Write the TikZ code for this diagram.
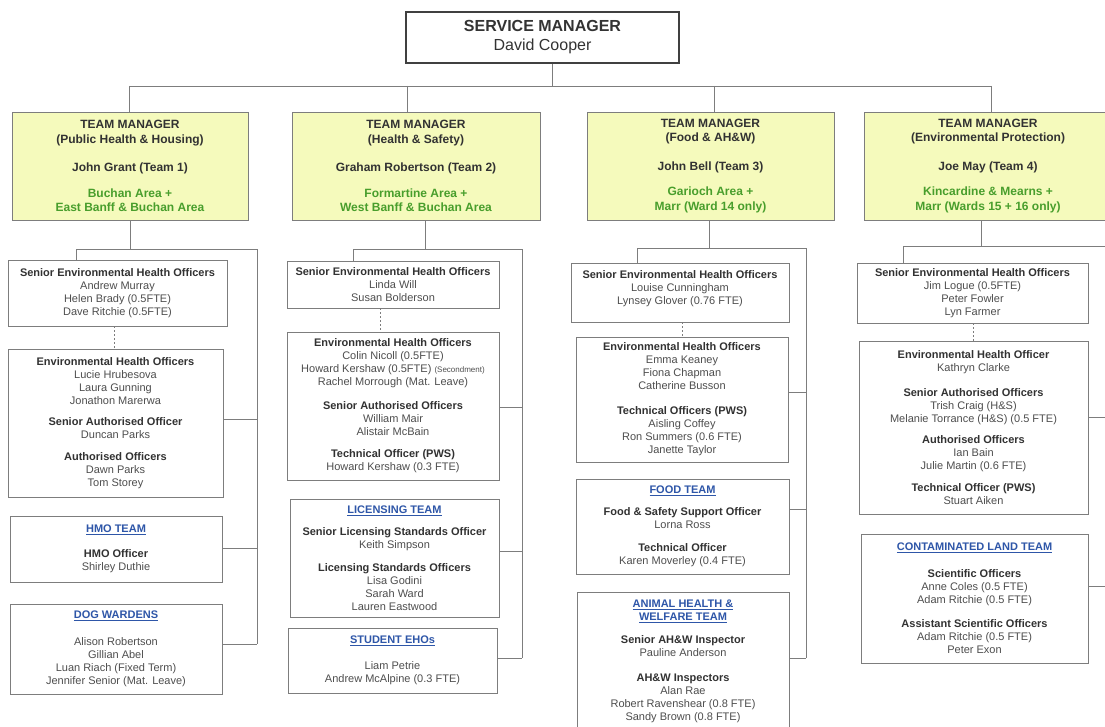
\documentclass[tikz,border=0pt]{standalone}
\usepackage{fontspec}
\setmainfont{Liberation Sans}
\usepackage{tikz}
\definecolor{tmfill}{RGB}{245,250,188}
\definecolor{areagreen}{RGB}{72,158,44}
\definecolor{teamblue}{RGB}{46,86,168}
\definecolor{boxgray}{RGB}{125,125,125}
\definecolor{hdgray}{RGB}{50,50,50}
\definecolor{nmgray}{RGB}{78,78,78}
\newcommand{\role}[1]{\textbf{\textcolor{hdgray}{#1}}}
\newcommand{\area}[1]{\textbf{\textcolor{areagreen}{#1}}}
\newcommand{\unitname}[1]{\textbf{\textcolor{teamblue}{\underline{#1}}}}
\newcommand{\smallnote}[1]{{\fontsize{8}{13}\selectfont #1}}

\begin{document}
\begin{tikzpicture}[x=1pt,y=-1pt,
  link/.style={boxgray,line width=0.8pt},
  dotlink/.style={boxgray,line width=0.8pt,dash pattern=on 2pt off 2pt},
  wh/.style 2 args={minimum width=#1pt,minimum height=#2pt},
  mgrbox/.style={draw=black!75,line width=2.8pt,fill=white,inner sep=0pt,align=center,text=black!80,font=\fontsize{16}{19}\selectfont},
  tmbox/.style={draw=boxgray,line width=0.8pt,fill=tmfill,inner sep=0pt,align=center,text=hdgray,font=\fontsize{12}{14.5}\selectfont\bfseries},
  unitbox/.style={draw=boxgray,line width=0.8pt,fill=white,inner sep=0pt,align=center,text=nmgray,font=\fontsize{11}{13}\selectfont}]
\useasboundingbox (0,0) rectangle (1105,727);
\clip (0,0) rectangle (1105,727);
\fill[white] (0,0) rectangle (1105,727);

% service manager and team managers
\node[mgrbox,wh={273}{51}] (mgr) at (542.5,37.5) {\textbf{SERVICE MANAGER}\\David Cooper};
\node[tmbox,wh={236}{108}] (tmA) at (130,166) {TEAM MANAGER\\(Public Health \& Housing)\\[14pt] John Grant (Team 1)\\[11pt] \area{Buchan Area +}\\ \area{East Banff \& Buchan Area}};
\node[tmbox,wh={248}{108}] (tmB) at (416,166) {TEAM MANAGER\\(Health \& Safety)\\[14pt] Graham Robertson (Team 2)\\[11pt] \area{Formartine Area +}\\ \area{West Banff \& Buchan Area}};
\node[tmbox,wh={247}{108}] (tmC) at (710.5,166) {TEAM MANAGER\\(Food \& AH\&W)\\[14pt] John Bell (Team 3)\\[11pt] \area{Garioch Area +}\\ \area{Marr (Ward 14 only)}};
\node[tmbox,wh={248}{108}] (tmD) at (988,166) {TEAM MANAGER\\(Environmental Protection)\\[14pt] Joe May (Team 4)\\[11pt] \area{Kincardine \& Mearns +}\\ \area{Marr (Wards 15 + 16 only)}};

\coordinate (top) at (552,86);
\coordinate (busA) at (129,86);
\coordinate (busB) at (407,86);
\coordinate (busC) at (714,86);
\coordinate (busD) at (991,86);
\draw[link] (mgr.south -| top) -- (top);
\draw[link] (busA) -- (busD);
\foreach \b/\t in {busA/tmA,busB/tmB,busC/tmC,busD/tmD}
  \draw[link] (\b) -- (\b |- \t.north);

% team 1
\node[unitbox,wh={219}{66}] (seA) at (117.5,293) {\role{Senior Environmental Health Officers}\\Andrew Murray\\Helen Brady (0.5FTE)\\Dave Ritchie (0.5FTE)};
\node[unitbox,wh={215}{148}] (ehoA) at (115.5,423) {\role{Environmental Health Officers}\\Lucie Hrubesova\\Laura Gunning\\Jonathon Marerwa\\[8pt] \role{Senior Authorised Officer}\\Duncan Parks\\[9pt] \role{Authorised Officers}\\Dawn Parks\\Tom Storey};
\node[unitbox,wh={212}{66}] (hmoA) at (116,549) {\unitname{HMO TEAM}\\[12pt] \role{HMO Officer}\\Shirley Duthie};
\node[unitbox,wh={212}{90}] (dogA) at (116,649) {\unitname{DOG WARDENS}\\[14pt] Alison Robertson\\Gillian Abel\\Luan Riach (Fixed Term)\\Jennifer Senior (Mat. Leave)};
\coordinate (jA) at (130,249);
\coordinate (spA) at (257,249);
\draw[link] (tmA.south -| jA) -- (jA);
\draw[link] (seA.north -| 76,0) |- (spA) -- (spA |- 0,644);
\draw[dotlink] (seA.south -| 114,0) -- (ehoA.north -| 114,0);
\draw[link] (ehoA.east |- 0,419) -- (spA |- 0,419);
\draw[link] (hmoA.east |- 0,548) -- (spA |- 0,548);
\draw[link] (dogA.east |- 0,644) -- (spA |- 0,644);

% team 2
\node[unitbox,wh={212}{47}] (seB) at (393,284.5) {\role{Senior Environmental Health Officers}\\Linda Will\\Susan Bolderson};
\node[unitbox,wh={212}{148}] (ehoB) at (393,406) {\role{Environmental Health Officers}\\Colin Nicoll (0.5FTE)\\Howard Kershaw (0.5FTE) \smallnote{(Secondment)}\\Rachel Morrough (Mat. Leave)\\[11pt] \role{Senior Authorised Officers}\\William Mair\\Alistair McBain\\[9pt] \role{Technical Officer (PWS)}\\Howard Kershaw (0.3 FTE)};
\node[unitbox,wh={209}{118}] (licB) at (394.5,558) {\unitname{LICENSING TEAM}\\[9pt] \role{Senior Licensing Standards Officer}\\Keith Simpson\\[10pt] \role{Licensing Standards Officers}\\Lisa Godini\\Sarah Ward\\Lauren Eastwood};
\node[unitbox,wh={209}{65}] (stuB) at (392.5,660.5) {\unitname{STUDENT EHOs}\\[13pt] Liam Petrie\\Andrew McAlpine (0.3 FTE)};
\coordinate (jB) at (425,249);
\coordinate (spB) at (522,249);
\draw[link] (tmB.south -| jB) -- (jB);
\draw[link] (seB.north -| 353,0) |- (spB) -- (spB |- 0,658);
\draw[dotlink] (seB.south -| 380,0) -- (ehoB.north -| 380,0);
\draw[link] (ehoB.east |- 0,407) -- (spB |- 0,407);
\draw[link] (licB.east |- 0,551) -- (spB |- 0,551);
\draw[link] (stuB.east |- 0,658) -- (spB |- 0,658);

% team 3
\node[unitbox,wh={218}{59}] (seC) at (680,292.5) {\role{Senior Environmental Health Officers}\\Louise Cunningham\\Lynsey Glover (0.76 FTE)\\[-4pt]~};
\node[unitbox,wh={212}{125}] (ehoC) at (682,399.5) {\role{Environmental Health Officers}\\Emma Keaney\\Fiona Chapman\\Catherine Busson\\[12pt] \role{Technical Officers (PWS)}\\Aisling Coffey\\Ron Summers (0.6 FTE)\\Janette Taylor};
\node[unitbox,wh={213}{95}] (foodC) at (682.5,526.5) {\unitname{FOOD TEAM}\\[9pt] \role{Food \& Safety Support Officer}\\Lorna Ross\\[10pt] \role{Technical Officer}\\Karen Moverley (0.4 FTE)};
\node[unitbox,wh={212}{139}] (ahwC) at (683,661.5) {\unitname{ANIMAL HEALTH \&}\\ \unitname{WELFARE TEAM}\\[10pt] \role{Senior AH\&W Inspector}\\Pauline Anderson\\[12pt] \role{AH\&W Inspectors}\\Alan Rae\\Robert Ravenshear (0.8 FTE)\\Sandy Brown (0.8 FTE)};
\coordinate (jC) at (709,248);
\coordinate (spC) at (806,248);
\draw[link] (tmC.south -| jC) -- (jC);
\draw[link] (seC.north -| 637,0) |- (spC) -- (spC |- 0,658);
\draw[dotlink] (seC.south -| 682,0) -- (ehoC.north -| 682,0);
\draw[link] (ehoC.east |- 0,392) -- (spC |- 0,392);
\draw[link] (foodC.east |- 0,509) -- (spC |- 0,509);
\draw[link] (ahwC.east |- 0,658) -- (spC |- 0,658);

% team 4
\node[unitbox,wh={231}{60}] (seD) at (972.5,293) {\role{Senior Environmental Health Officers}\\Jim Logue (0.5FTE)\\Peter Fowler\\Lyn Farmer};
\node[unitbox,wh={229}{173}] (ehoD) at (973.5,428) {\role{Environmental Health Officer}\\Kathryn Clarke\\[12pt] \role{Senior Authorised Officers}\\Trish Craig (H\&S)\\Melanie Torrance (H\&S) (0.5 FTE)\\[8pt] \role{Authorised Officers}\\Ian Bain\\Julie Martin (0.6 FTE)\\[9pt] \role{Technical Officer (PWS)}\\Stuart Aiken};
\node[unitbox,wh={227}{129}] (clD) at (974.5,598.5) {\unitname{CONTAMINATED LAND TEAM}\\[14pt] \role{Scientific Officers}\\Anne Coles (0.5 FTE)\\Adam Ritchie (0.5 FTE)\\[11pt] \role{Assistant Scientific Officers}\\Adam Ritchie (0.5 FTE)\\Peter Exon};
\coordinate (jD) at (981,246);
\coordinate (spD) at (1116,246);
\draw[link] (tmD.south -| jD) -- (jD);
\draw[link] (seD.north -| 903,0) |- (spD) -- (spD |- 0,600);
\draw[dotlink] (seD.south -| 973,0) -- (ehoD.north -| 973,0);
\draw[link] (ehoD.east |- 0,417) -- (spD |- 0,417);
\draw[link] (clD.east |- 0,586) -- (spD |- 0,586);
\end{tikzpicture}
\end{document}
